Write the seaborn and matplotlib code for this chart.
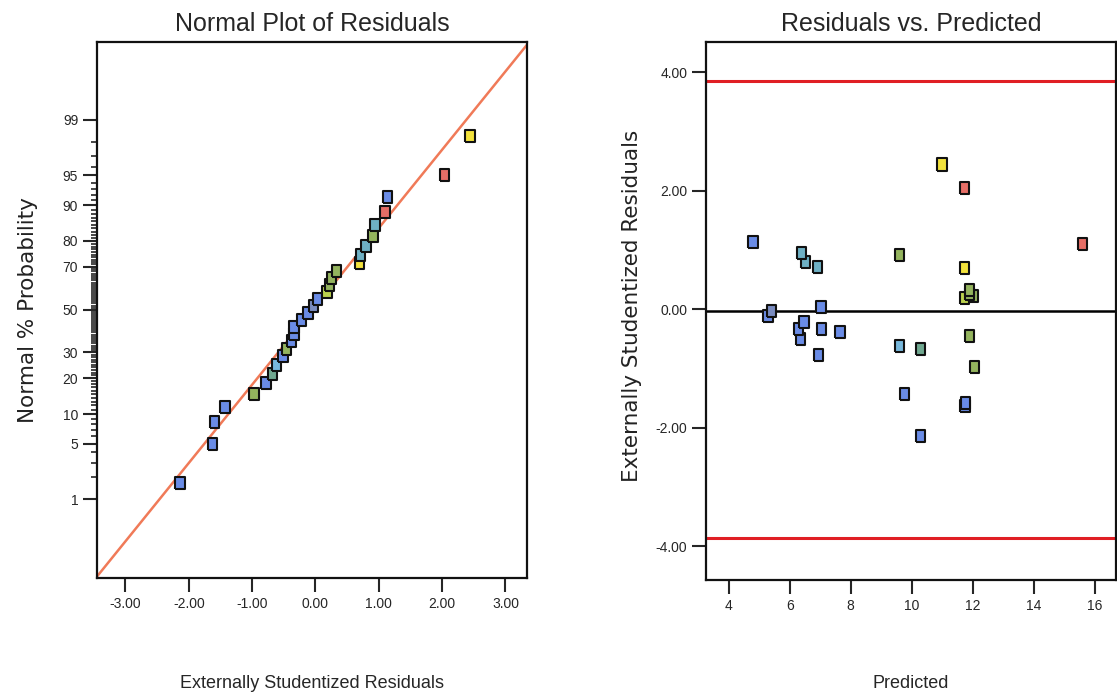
import numpy as np
import pandas as pd
import matplotlib
matplotlib.use("Agg")
import matplotlib.pyplot as plt
import seaborn as sns
from statistics import NormalDist

# Residual data (one row per run)
predicted = [4.79, 5.29, 5.40, 6.29, 6.36, 6.39, 6.47, 6.52, 6.92, 6.95,
             7.03, 7.05, 7.65, 9.60, 9.60, 9.77, 10.28, 10.29, 11.00, 11.74,
             11.74, 11.74, 11.75, 11.76, 11.89, 11.90, 11.89, 12.02, 12.06, 15.61]
residuals = [1.14, -0.12, -0.03, -0.34, -0.51, 0.94, -0.22, 0.80, 0.71, -0.78,
             0.03, -0.34, -0.38, 0.91, -0.62, -1.43, -2.14, -0.68, 2.44, 2.04,
             0.70, 0.18, -1.63, -1.59, 0.33, 0.25, -0.46, 0.22, -0.97, 1.10]
point_colors = ["blue", "blue", "slate", "blue", "blue", "teal", "blue", "teal", "teal", "blue",
                "blue", "blue", "blue", "green", "lightblue", "blue", "blue", "tealgreen", "yellow", "red",
                "yellow", "yelgreen", "blue", "blue", "green", "green", "green", "green", "green", "red"]

palette = {"blue": "#6a8ce6", "slate": "#7a8cc0", "teal": "#6eb0c4", "lightblue": "#78b8dc",
           "tealgreen": "#70a890", "green": "#94b45e", "yelgreen": "#bcd24e",
           "yellow": "#f2e23c", "red": "#e66e66"}

# normal probability axis
prob_ticks = [1, 5, 10, 20, 30, 50, 70, 80, 90, 95, 99]
ref_slope = 0.96
ref_intercept = 0.04
limit_value = 3.85

nd = NormalDist()
df = pd.DataFrame({"pred": predicted, "resid": residuals, "col": point_colors})
df = df.sort_values("resid").reset_index(drop=True)
n = len(df)
df["z"] = [nd.inv_cdf((i + 0.5) / n) for i in range(n)]

sns.set_style("ticks")
plt.rcParams["font.family"] = ["Liberation Sans", "DejaVu Sans"]

# slightly tall rectangle like the original software uses
rect = [(-0.78, -1), (0.78, -1), (0.78, 1), (-0.78, 1), (-0.78, -1)]

fig = plt.figure(figsize=(11.17, 6.97), dpi=100)
ax1 = fig.add_axes([0.0868, 0.1707, 0.385, 0.769])
ax2 = fig.add_axes([0.632, 0.168, 0.367, 0.772])

# ---- Normal plot
xl = np.array([-3.45, 3.34])
ax1.plot(xl, ref_slope * xl + ref_intercept, color="#f07a58", lw=1.8, zorder=1)
sns.scatterplot(data=df, x="resid", y="z", hue="col", palette=palette, marker=rect,
                s=75, edgecolor="#111111", linewidth=1.5, legend=False, ax=ax1, zorder=3)
ax1.set_xlim(-3.45, 3.34)
ax1.set_ylim(-3.29, 3.28)
ax1.set_xticks([-3, -2, -1, 0, 1, 2, 3])
ax1.set_xticklabels([f"{v:.2f}" for v in [-3, -2, -1, 0, 1, 2, 3]])
ax1.set_yticks([nd.inv_cdf(p / 100) for p in prob_ticks])
ax1.set_yticklabels([str(p) for p in prob_ticks])
minor = [p for p in range(2, 99) if p not in prob_ticks]
ax1.set_yticks([nd.inv_cdf(p / 100) for p in minor], minor=True)
ax1.tick_params(axis="y", which="minor", length=4, width=1.2)
ax1.set_title("Normal Plot of Residuals", fontsize=18, pad=8)
ax1.set_xlabel("Externally Studentized Residuals", fontsize=13)
ax1.xaxis.set_label_coords(0.5, -0.181)
ax1.set_ylabel("Normal % Probability", fontsize=15.5, family="DejaVu Sans", color="#222222")
ax1.yaxis.set_label_coords(-0.137, 0.5)

# ---- Residuals vs predicted
ax2.axhline(limit_value, color="#e01e24", lw=2.2, zorder=1)
ax2.axhline(-limit_value - 0.02, color="#e01e24", lw=2.2, zorder=1)
ax2.axhline(-0.03, color="black", lw=1.8, zorder=1)
sns.scatterplot(data=df, x="pred", y="resid", hue="col", palette=palette, marker=rect,
                s=75, edgecolor="#111111", linewidth=1.5, legend=False, ax=ax2, zorder=3)
ax2.set_xlim(3.25, 16.7)
ax2.set_ylim(-4.57, 4.51)
ax2.set_xticks([4, 6, 8, 10, 12, 14, 16])
ax2.set_yticks([-4, -2, 0, 2, 4])
ax2.set_yticklabels([f"{v:.2f}" for v in [-4, -2, 0, 2, 4]])
ax2.set_title("Residuals vs. Predicted", fontsize=18, pad=8)
ax2.set_xlabel("Predicted", fontsize=13)
ax2.xaxis.set_label_coords(0.5, -0.177)
ax2.set_ylabel("Externally Studentized Residuals", fontsize=15.5, family="DejaVu Sans", color="#222222")
ax2.yaxis.set_label_coords(-0.156, 0.51)

for ax in (ax1, ax2):
    for sp in ax.spines.values():
        sp.set_linewidth(1.6)
        sp.set_color("#111111")
    ax.tick_params(axis="both", which="major", length=10, width=1.5, labelsize=10, direction="out")

fig.savefig("out.png", dpi=100)
